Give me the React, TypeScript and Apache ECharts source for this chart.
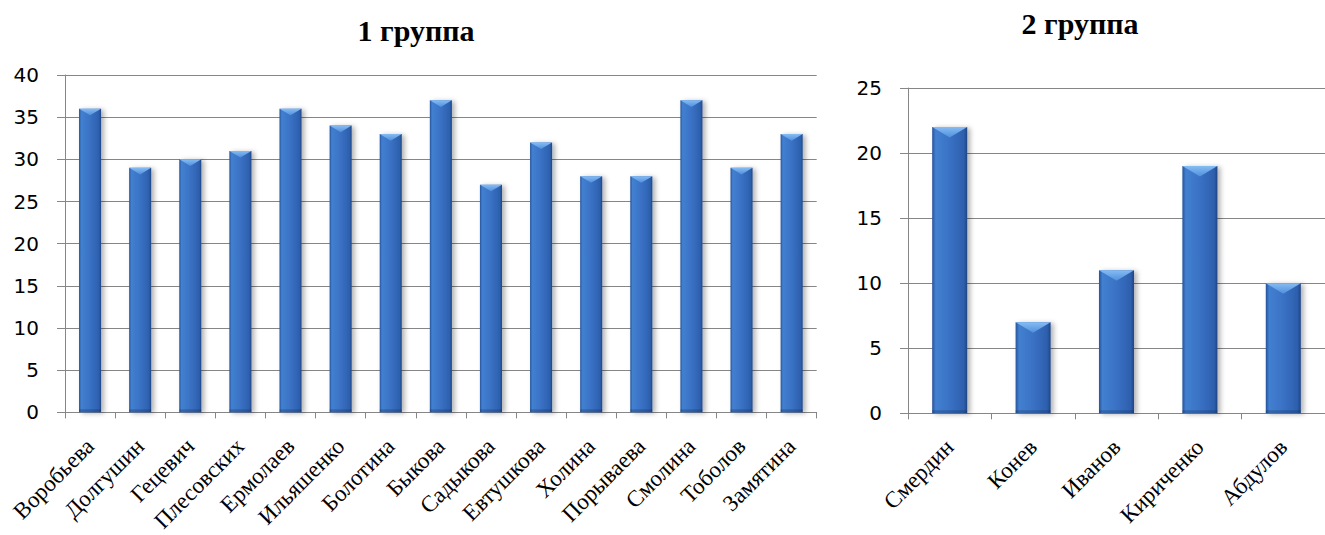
import React, { useEffect, useRef } from "react";
import * as echarts from "echarts";

// Группа 1
const group1Names = [
  "Воробьева", "Долгушин", "Гецевич", "Плесовских", "Ермолаев",
  "Ильяшенко", "Болотина", "Быкова", "Садыкова", "Евтушкова",
  "Холина", "Порываева", "Смолина", "Тоболов", "Замятина",
];
const group1Values = [36, 29, 30, 31, 36, 34, 33, 37, 27, 32, 28, 28, 37, 29, 33];

// Группа 2
const group2Names = ["Смердин", "Конев", "Иванов", "Кириченко", "Абдулов"];
const group2Values = [22, 7, 11, 19, 10];

const group1Ticks = { min: 0, max: 40, step: 5 };
const group2Ticks = { min: 0, max: 25, step: 5 };

const AXIS_GREY = "#868686";

// Column with a lighter bevelled cap, drawn from the axis scales
function makeBarRenderer(ratio: number) {
  return (params: any, api: any) => {
    const idx = api.value(0);
    const val = api.value(1);
    const top = api.coord([idx, val]);
    const base = api.coord([idx, 0]);
    const w = api.size([1, 0])[0] * ratio;
    const left = top[0] - w / 2;
    const h = base[1] - top[1];
    const cap = Math.min(w * 0.3, h);
    return {
      type: "group",
      children: [
        {
          type: "rect",
          shape: { x: left, y: top[1], width: w, height: h },
          style: {
            fill: new echarts.graphic.LinearGradient(0, 0, 1, 0, [
              { offset: 0, color: "#26529a" },
              { offset: 0.1, color: "#4280d0" },
              { offset: 0.5, color: "#3a71c4" },
              { offset: 0.9, color: "#2d60ae" },
              { offset: 1, color: "#1f4584" },
            ]),
            shadowBlur: 5,
            shadowOffsetX: 3,
            shadowOffsetY: 1,
            shadowColor: "rgba(0,0,0,0.3)",
          },
        },
        {
          type: "rect",
          shape: { x: left, y: base[1] - 3, width: w, height: 3 },
          style: { fill: "rgba(20,45,90,0.3)" },
        },
        {
          type: "polygon",
          shape: {
            points: [
              [left, top[1]],
              [left + w, top[1]],
              [left + w / 2, top[1] + cap],
            ],
          },
          style: {
            fill: new echarts.graphic.LinearGradient(0, 0, 0, 1, [
              { offset: 0, color: "#86bcf3" },
              { offset: 1, color: "#4f8fdc" },
            ]),
          },
        },
      ],
    };
  };
}

export default function App() {
  const ref = useRef<HTMLDivElement>(null);

  useEffect(() => {
    document.body.style.margin = "0";
    if (!ref.current) return;
    const chart = echarts.init(ref.current, null, { renderer: "svg" });

    const yAxisCommon = {
      type: "value" as const,
      axisLine: { show: true, lineStyle: { color: AXIS_GREY, width: 1 } },
      axisTick: { show: true, length: 8, lineStyle: { color: AXIS_GREY } },
      splitLine: { show: true, lineStyle: { color: AXIS_GREY, width: 1 } },
      axisLabel: {
        margin: 26,
        color: "#000",
        fontFamily: "DejaVu Sans",
        fontSize: 20,
      },
    };
    const xAxisCommon = {
      type: "category" as const,
      boundaryGap: true,
      axisLine: { show: true, lineStyle: { color: AXIS_GREY, width: 1 } },
      axisTick: { show: true, length: 6, lineStyle: { color: AXIS_GREY } },
      axisLabel: {
        rotate: 45,
        margin: 30,
        interval: 0,
        color: "#000",
        fontFamily: "Liberation Serif",
        fontSize: 23,
      },
    };

    const titleStyle = {
      fontFamily: "Liberation Serif",
      fontWeight: "bold" as const,
      fontSize: 30,
      color: "#000",
    };

    chart.setOption({
      animation: false,
      backgroundColor: "#fff",
      title: [
        { text: "1 группа", left: 411, top: 10, textAlign: "center", textStyle: titleStyle },
        { text: "2 группа", left: 1075, top: 3, textAlign: "center", textStyle: titleStyle },
      ],
      grid: [
        { left: 65, top: 75, width: 751.7, height: 338.5 },
        { left: 908, top: 88, width: 425, height: 325.3 },
      ],
      xAxis: [
        { ...xAxisCommon, gridIndex: 0, data: group1Names },
        { ...xAxisCommon, gridIndex: 1, data: group2Names },
      ],
      yAxis: [
        { ...yAxisCommon, gridIndex: 0, min: group1Ticks.min, max: group1Ticks.max, interval: group1Ticks.step },
        { ...yAxisCommon, gridIndex: 1, min: group2Ticks.min, max: group2Ticks.max, interval: group2Ticks.step },
      ],
      series: [
        {
          type: "custom",
          xAxisIndex: 0,
          yAxisIndex: 0,
          renderItem: makeBarRenderer(0.44),
          encode: { x: 0, y: 1 },
          data: group1Values.map((v, i) => [i, v]),
        },
        {
          type: "custom",
          xAxisIndex: 1,
          yAxisIndex: 1,
          renderItem: makeBarRenderer(0.42),
          encode: { x: 0, y: 1 },
          data: group2Values.map((v, i) => [i, v]),
        },
      ],
    });

    return () => chart.dispose();
  }, []);

  return <div ref={ref} style={{ width: 1325, height: 535 }} />;
}
